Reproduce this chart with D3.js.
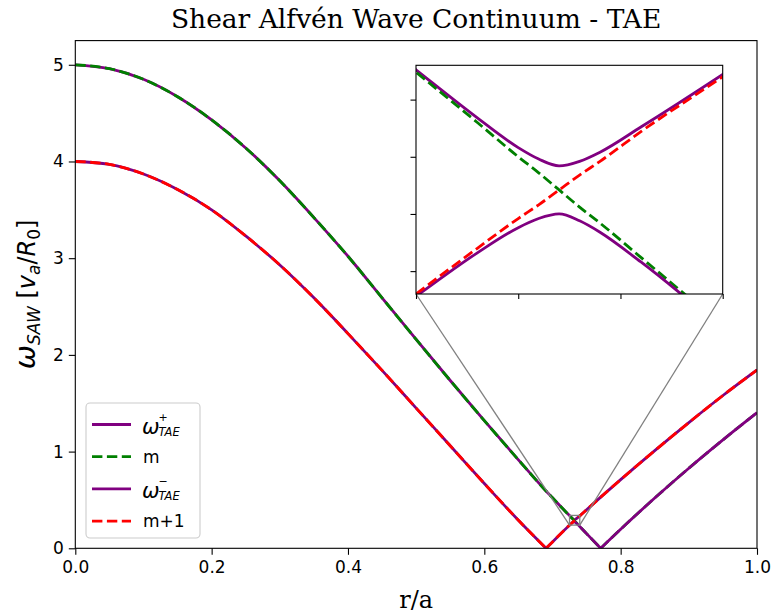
<!DOCTYPE html>
<html>
<head>
<meta charset="utf-8">
<script src="https://cdn.jsdelivr.net/npm/d3@7"></script>
<style>
  body { margin: 0; background: #fff; }
  svg { display: block; }
</style>
</head>
<body>
<div id="chart"></div>
<script>
// values
const radius = [0, 0.05, 0.1, 0.15, 0.2, 0.25, 0.3, 0.35, 0.4, 0.45, 0.5, 0.55, 0.6, 0.65, 0.6905, 0.70,
                0.725, 0.728, 0.730, 0.731, 0.732, 0.733, 0.734, 0.736, 0.74, 0.75, 0.7707, 0.8, 0.85, 0.9, 0.95, 1.0];

const omegaM = [5.0, 4.96, 4.85, 4.67, 4.43, 4.14, 3.80, 3.42, 3.02, 2.59, 2.16, 1.735, 1.32, 0.915, 0.593, 0.522,
                0.337, 0.315, 0.300, 0.293, 0.2855, 0.278, 0.271, 0.256, 0.226, 0.152, 0, 0.197, 0.52, 0.828, 1.121, 1.402];

const omegaM1 = [4.0, 3.97, 3.87, 3.71, 3.50, 3.23, 2.93, 2.59, 2.22, 1.84, 1.45, 1.06, 0.67, 0.29, 0, 0.066,
                 0.24, 0.260, 0.273, 0.279, 0.2855, 0.292, 0.298, 0.311, 0.335, 0.398, 0.529, 0.71, 1.01, 1.30, 1.58, 1.844];

const omegaTaePlus = [5.0, 4.96, 4.85, 4.67, 4.43, 4.14, 3.80, 3.42, 3.02, 2.59, 2.16, 1.735, 1.32, 0.915, 0.593, 0.522,
                      0.338, 0.317, 0.304, 0.299, 0.296, 0.298, 0.302, 0.313, 0.336, 0.398, 0.529, 0.71, 1.01, 1.30, 1.58, 1.844];

const omegaTaeMinus = [4.0, 3.97, 3.87, 3.71, 3.50, 3.23, 2.93, 2.59, 2.22, 1.84, 1.45, 1.06, 0.67, 0.29, 0, 0.066,
                       0.239, 0.258, 0.269, 0.273, 0.275, 0.272, 0.267, 0.254, 0.225, 0.152, 0, 0.197, 0.52, 0.828, 1.121, 1.402];

const xTicks = [0, 0.2, 0.4, 0.6, 0.8, 1.0];
const yTicks = [0, 1, 2, 3, 4, 5];
const insetXTicks = [0.725, 0.730, 0.735, 0.740];
const insetYTicks = [0.25, 0.275, 0.30, 0.325];
const xDomain = [0, 1];
const yDomain = [0, 5.25];
const zoomX = [0.725, 0.740];
const zoomY = [0.24, 0.34];

let width = 774, height = 616;
let svg = d3.select('#chart').append('svg')
            .attr('width', width)
            .attr('height', height)
            .style('background', '#fff');

// main axes box
let box = { left: 75.3, right: 757, top: 40.6, bottom: 548.3 };
let xscale = d3.scaleLinear().domain(xDomain).range([box.left, box.right]);
let yscale = d3.scaleLinear().domain(yDomain).range([box.bottom, box.top]);

// inset box
let ibox = { left: 416, right: 722.7, top: 65.3, bottom: 294 };
let ixscale = d3.scaleLinear().domain(zoomX).range([ibox.left, ibox.right]);
let iyscale = d3.scaleLinear().domain(zoomY).range([ibox.bottom, ibox.top]);

let defs = svg.append('defs');
defs.append('clipPath').attr('id', 'clipMain').append('rect')
    .attr('x', box.left).attr('y', box.top)
    .attr('width', box.right - box.left).attr('height', box.bottom - box.top);
defs.append('clipPath').attr('id', 'clipInset').append('rect')
    .attr('x', ibox.left).attr('y', ibox.top)
    .attr('width', ibox.right - ibox.left).attr('height', ibox.bottom - ibox.top);

const series = [
    { values: omegaTaePlus, color: 'purple', dash: null },
    { values: omegaM, color: 'green', dash: '10.4,4.5' },
    { values: omegaTaeMinus, color: 'purple', dash: null },
    { values: omegaM1, color: 'red', dash: '10.4,4.5' }
];

// split a series at its zeros so the V corners stay sharp
function pieces(values) {
    let out = [], cur = [];
    values.forEach((v, i) => {
        cur.push([radius[i], v]);
        if (v === 0 && cur.length > 1) { out.push(cur); cur = [[radius[i], v]]; }
    });
    if (cur.length > 1) out.push(cur);
    return out;
}

function drawLines(g, xs, ys) {
    let line = d3.line()
                 .x(d => xs(d[0]))
                 .y(d => ys(d[1]))
                 .curve(d3.curveMonotoneX);
    series.forEach(s => {
        g.append('path')
         .attr('d', pieces(s.values).map(p => line(p)).join(''))
         .attr('fill', 'none')
         .attr('stroke', s.color)
         .attr('stroke-width', 2.8)
         .attr('stroke-dasharray', s.dash);
    });
}

// main curves
let mainG = svg.append('g').attr('clip-path', 'url(#clipMain)');
drawLines(mainG, xscale, yscale);

// zoom rectangle + connectors
svg.append('rect')
   .attr('x', xscale(zoomX[0])).attr('y', yscale(zoomY[1]))
   .attr('width', xscale(zoomX[1]) - xscale(zoomX[0]))
   .attr('height', yscale(zoomY[0]) - yscale(zoomY[1]))
   .attr('fill', 'none').attr('stroke', '#808080').attr('stroke-width', 1.3);
svg.append('line')
   .attr('x1', ibox.left).attr('y1', ibox.bottom)
   .attr('x2', xscale(zoomX[0])).attr('y2', yscale(zoomY[0]))
   .attr('stroke', '#808080').attr('stroke-width', 1.3);
svg.append('line')
   .attr('x1', ibox.right).attr('y1', ibox.bottom)
   .attr('x2', xscale(zoomX[1])).attr('y2', yscale(zoomY[0]))
   .attr('stroke', '#808080').attr('stroke-width', 1.3);

// main axes
let xaxis = svg.append('g')
               .attr('transform', `translate(0, ${box.bottom})`)
               .call(d3.axisBottom(xscale).tickValues(xTicks).tickFormat(d3.format('.1f')).tickSize(6.5).tickPadding(6));
let yaxis = svg.append('g')
               .attr('transform', `translate(${box.left}, 0)`)
               .call(d3.axisLeft(yscale).tickValues(yTicks).tickFormat(d3.format('d')).tickSize(6.5).tickPadding(5));
[xaxis, yaxis].forEach(a => {
    a.select('.domain').remove();
    a.selectAll('line').attr('stroke', '#000').attr('stroke-width', 1.1);
    a.selectAll('text').attr('fill', '#000')
     .style('font-family', 'DejaVu Sans').style('font-size', '17px');
});
svg.append('rect')
   .attr('x', box.left).attr('y', box.top)
   .attr('width', box.right - box.left).attr('height', box.bottom - box.top)
   .attr('fill', 'none').attr('stroke', '#000').attr('stroke-width', 1.1);

// inset
svg.append('rect')
   .attr('x', ibox.left).attr('y', ibox.top)
   .attr('width', ibox.right - ibox.left).attr('height', ibox.bottom - ibox.top)
   .attr('fill', '#fff');
let insetG = svg.append('g').attr('clip-path', 'url(#clipInset)');
drawLines(insetG, ixscale, iyscale);
let ixaxis = svg.append('g')
                .attr('transform', `translate(0, ${ibox.bottom})`)
                .call(d3.axisBottom(ixscale).tickValues(insetXTicks).tickFormat('').tickSize(5));
let iyaxis = svg.append('g')
                .attr('transform', `translate(${ibox.left}, 0)`)
                .call(d3.axisLeft(iyscale).tickValues(insetYTicks).tickFormat('').tickSize(5.5));
[ixaxis, iyaxis].forEach(a => {
    a.select('.domain').remove();
    a.selectAll('line').attr('stroke', '#000').attr('stroke-width', 1.1);
});
svg.append('rect')
   .attr('x', ibox.left).attr('y', ibox.top)
   .attr('width', ibox.right - ibox.left).attr('height', ibox.bottom - ibox.top)
   .attr('fill', 'none').attr('stroke', '#000').attr('stroke-width', 1.1);

// title and labels
svg.append('text')
   .attr('x', (box.left + box.right) / 2).attr('y', 28)
   .style('text-anchor', 'middle')
   .style('font-family', 'DejaVu Serif').style('font-size', '26.5px')
   .text('Shear Alfvén Wave Continuum - TAE');

svg.append('text')
   .attr('x', (box.left + box.right) / 2).attr('y', 608)
   .style('text-anchor', 'middle')
   .style('font-family', 'DejaVu Serif').style('font-size', '24px')
   .text('r/a');

let ylab = svg.append('text')
              .attr('transform', `translate(35, ${(box.top + box.bottom) / 2}) rotate(-90)`)
              .style('text-anchor', 'middle')
              .style('font-family', 'DejaVu Sans').style('font-size', '24px');
const ylabParts = [
    ['ω', 'italic', 29, 0], ['SAW', 'italic', 17, 5], [' [', 'normal', 24, -5],
    ['v', 'italic', 24, 0], ['a', 'italic', 17, 5], ['/', 'normal', 24, -5],
    ['R', 'italic', 24, 0], ['0', 'normal', 17, 5], [']', 'normal', 24, -5]
];
ylabParts.forEach(p => {
    ylab.append('tspan')
        .style('font-style', p[1])
        .style('font-size', p[2] + 'px')
        .attr('dy', p[3])
        .text(p[0]);
});

// legend
let legend = svg.append('g');
legend.append('rect')
      .attr('x', 86).attr('y', 403).attr('width', 114).attr('height', 135)
      .attr('rx', 4)
      .attr('fill', 'rgba(255,255,255,0.8)')
      .attr('stroke', '#cccccc').attr('stroke-width', 1.1);
const legendData = [
    { sign: '+', label: null, color: 'purple', dash: null },
    { sign: null, label: 'm', color: 'green', dash: '10.4,4.5' },
    { sign: '−', label: null, color: 'purple', dash: null },
    { sign: null, label: 'm+1', color: 'red', dash: '10.4,4.5' }
];
legendData.forEach((d, i) => {
    let cy = 424.5 + i * 32.2;
    legend.append('line')
          .attr('x1', 92).attr('x2', 131).attr('y1', cy).attr('y2', cy)
          .attr('stroke', d.color).attr('stroke-width', 2.8)
          .attr('stroke-dasharray', d.dash);
    if (d.label) {
        legend.append('text')
              .attr('x', 143).attr('y', cy + 6)
              .style('font-family', 'DejaVu Sans').style('font-size', '17px')
              .text(d.label);
    } else {
        let w = legend.append('text')
                      .attr('x', 142).attr('y', cy + 9)
                      .style('font-family', 'DejaVu Sans').style('font-size', '21px')
                      .style('font-style', 'italic')
                      .text('ω');
        let wx = 142 + w.node().getComputedTextLength();
        legend.append('text')
              .attr('x', wx - 1).attr('y', cy - 3.5)
              .style('font-family', 'DejaVu Sans').style('font-size', '11px')
              .text(d.sign);
        legend.append('text')
              .attr('x', wx - 1).attr('y', cy + 11)
              .style('font-family', 'DejaVu Sans').style('font-size', '11.5px')
              .style('font-style', 'italic')
              .text('TAE');
    }
});
</script>
</body>
</html>
